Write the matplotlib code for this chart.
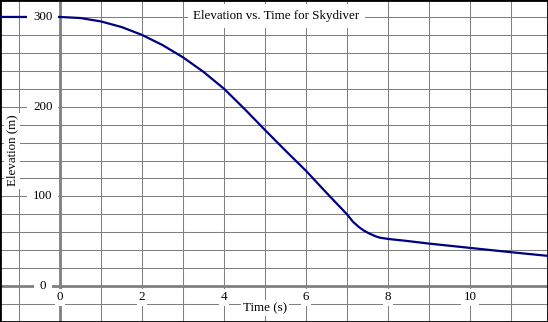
import matplotlib.pyplot as plt

# time (s) and elevation (m)
time = [-1.5, 0, 0.5, 1, 1.5, 2, 2.5, 3, 3.5, 4, 4.5, 5, 5.5, 6, 6.5, 7, 7.15, 7.3, 7.4, 7.55, 7.7, 7.8, 8, 8.45, 9, 10, 11, 11.9]
elev = [300, 300, 298.8, 295, 288.8, 280, 268.7, 255, 238.8, 220, 197.5, 174, 151, 128.5, 104, 80, 71.5, 65.5, 62.2, 58.5, 55.5, 54, 52.6, 50.4, 47.4, 42.6, 37.8, 33.7]

x_labels = [0, 2, 4, 6, 8, 10]
y_labels = [0, 100, 200, 300]

fs = 9.4
font = "Liberation Serif"
box = dict(facecolor="white", edgecolor="none", pad=1.5)

fig = plt.figure(figsize=(5.48, 3.22), dpi=100)
ax = fig.add_axes([0, 0, 1, 1])
ax.set_xlim(-60 / 41, 488 / 41)
ax.set_ylim(-40, 318.9)

# grid
for gx in range(-1, 12):
    ax.axvline(gx, color="#808080", lw=0.75, zorder=1)
for gy in range(-40, 320, 20):
    ax.axhline(gy, color="#808080", lw=0.75, zorder=1)
ax.axvline(0, color="#808080", lw=2, zorder=2)
ax.axhline(0, color="#808080", lw=2, zorder=2)

ax.plot(time, elev, color="#000080", lw=1.6, zorder=3, solid_capstyle="butt", solid_joinstyle="round")

for v in x_labels:
    ax.text(v, -6, str(v), ha="center", va="top", fontsize=fs, family=font, bbox=box, zorder=5)
for v in y_labels:
    ax.text(-0.42, v, str(v), ha="center", va="center", fontsize=fs, family=font,
            bbox=dict(facecolor="white", edgecolor="none", pad=4), zorder=5)

ax.text(5.0, -24.5, "Time (s)", ha="center", va="center", fontsize=fs, family=font, bbox=box, zorder=5)
ax.text(-1.17, 151, "Elevation (m)", ha="center", va="center", rotation=90, fontsize=fs,
        family=font, bbox=box, zorder=5)
ax.text(5.28, 301.1, "Elevation vs. Time for Skydiver", ha="center", va="center", fontsize=fs,
        family=font, bbox=dict(facecolor="white", edgecolor="none", pad=4), zorder=5)

ax.set_xticks([])
ax.set_yticks([])
for s in ax.spines.values():
    s.set_color("black")
    s.set_linewidth(2)

fig.savefig("out.png", dpi=100)
